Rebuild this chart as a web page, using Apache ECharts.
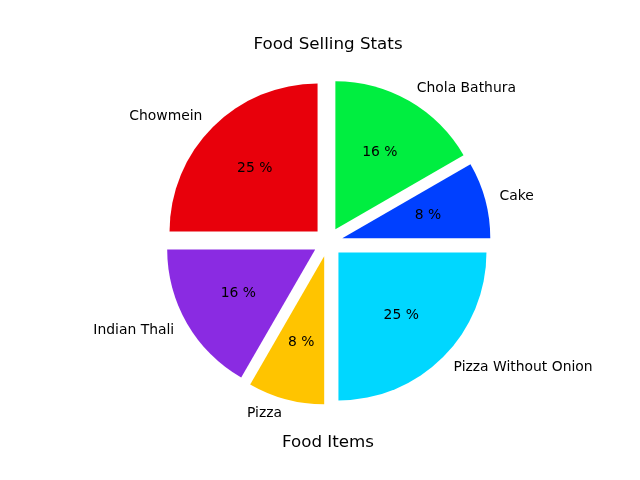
<!DOCTYPE html>
<html>
<head>
<meta charset="utf-8">
<script src="https://cdn.jsdelivr.net/npm/echarts@6/dist/echarts.min.js"></script>
<style>html,body{margin:0;padding:0;background:#fff}#c{width:640px;height:480px}</style>
</head>
<body>
<div id="c"></div>
<script>
const categories = ['Cake', 'Chola Bathura', 'Chowmein', 'Indian Thali', 'Pizza', 'Pizza Without Onion'];
const values = [1, 2, 3, 2, 1, 3];
const colors = ['#0040ff', '#00ee40', '#e8000b', '#8a2be2', '#ffc400', '#00d7ff'];
const explode = [0.1, 0.1, 0.1, 0.1, 0.1, 0.1];

const CX = 328, CY = 242, R = 148;
const FONT = 'DejaVu Sans';
const total = values.reduce((a, b) => a + b, 0);
const pct = values.map(v => Math.floor(v / total * 100) + ' %');

const series = [];
let cum = 0;
values.forEach((v, i) => {
  const mid = (cum + v / 2) / total * 2 * Math.PI;
  cum += v;
  const d = explode[i] * R;
  const center = [CX + d * Math.cos(mid), CY - d * Math.sin(mid)];
  const base = {
    type: 'pie', center: center, startAngle: 0, clockwise: false,
    silent: true, animation: false, avoidLabelOverlap: false,
    emphasis: { disabled: true }, labelLine: { show: false, length: 0.1 * R, length2: 0 }
  };
  series.push(Object.assign({}, base, {
    radius: [0, R],
    label: { position: 'outside', distanceToLabelLine: 0, fontFamily: FONT, fontSize: 13.9, color: '#000', formatter: '{b}', padding: [2, 0, 0, 0] },
    data: values.map((w, j) => ({
      value: w, name: categories[j],
      itemStyle: { color: j === i ? colors[j] : 'rgba(0,0,0,0)' },
      label: { show: j === i }
    }))
  }));
  series.push(Object.assign({}, base, {
    radius: [0.6 * R - 8, 0.6 * R + 2],
    label: { position: 'inside', fontFamily: FONT, fontSize: 13.9, color: '#000', padding: [2, 0, 0, 0] },
    data: values.map((w, j) => ({
      value: w, name: categories[j],
      itemStyle: { color: 'rgba(0,0,0,0)' },
      label: { show: j === i, formatter: pct[j] }
    }))
  }));
});

const chart = echarts.init(document.getElementById('c'), null, { renderer: 'canvas' });
chart.setOption({
  backgroundColor: '#fff',
  animation: false,
  title: [
    { text: 'Food Selling Stats', left: CX, top: 36, textAlign: 'center', padding: 0,
      textStyle: { fontFamily: FONT, fontSize: 16.7, fontWeight: 'normal', color: '#000' } },
    { text: 'Food Items', left: CX, top: 434, textAlign: 'center', padding: 0,
      textStyle: { fontFamily: FONT, fontSize: 16.7, fontWeight: 'normal', color: '#000' } }
  ],
  series: series
});
</script>
</body>
</html>
